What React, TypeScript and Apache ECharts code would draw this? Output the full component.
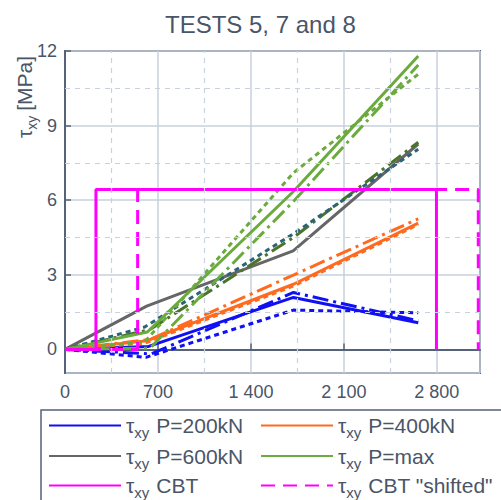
import React, { useEffect, useRef } from "react";
import * as echarts from "echarts";

// ---- data ----
const titleText = "TESTS 5, 7 and 8";
const xTickStep = 700;
const xMin = 0;
const xMax = 3125;
const yMin = -0.95;
const yMax = 12;
const minorX = [350, 1050, 1750, 2450];
const minorY = [1.5, 4.5, 7.5, 10.5];

// P=200kN
const b5X = [0, 630, 1720, 2660];
const b5Y = [0, 0.12, 2.09, 1.07];
const b7X = [0, 650, 1720, 2660];
const b7Y = [0, -0.18, 2.29, 1.15];
const b8X = [0, 610, 1720, 2660];
const b8Y = [0, -0.32, 1.58, 1.47];
// P=400kN
const o5X = [0, 620, 1720, 2660];
const o5Y = [0, 0.35, 2.62, 5.08];
const o7X = [0, 640, 1720, 2660];
const o7Y = [0, 0.4, 2.99, 5.25];
const o8X = [0, 600, 1720, 2660];
const o8Y = [0, 0.25, 2.55, 5.02];
// P=600kN
const g5X = [0, 615, 1718, 2660];
const g5Y = [0, 1.74, 3.96, 8.26];
const g7X = [0, 640, 1720, 2660];
const g7Y = [0, 0.8, 4.5, 8.33];
const g8X = [0, 600, 1720, 2660];
const g8Y = [0, 0.9, 4.65, 8.05];
// P=max
const m5X = [0, 620, 1720, 2660];
const m5Y = [0, 0.7, 6.35, 11.8];
const m7X = [0, 640, 1720, 2660];
const m7Y = [0, 0.05, 5.95, 11.44];
const m8X = [0, 600, 1720, 2660];
const m8Y = [0, 0.3, 7.1, 11.07];
// CBT
const cbtX = [0, 233, 233, 2797, 2797];
const cbtY = [0, 0, 6.43, 6.43, 0];
const cbtShiftX = [0, 547, 547, 3112, 3112];
const cbtShiftY = [0, 0, 6.43, 6.43, 0];

// legend entries: [left column, right column] per row
const legendRows = [
  ["P=200kN", "P=400kN"],
  ["P=600kN", "P=max"],
  ["CBT", 'CBT "shifted"'],
];

const pairs = (xs: number[], ys: number[]) => xs.map((x, i) => [x, ys[i]]);

const TXT = "#4a5568";
const FONT = "'Liberation Sans', Arial, sans-serif";
const GRID = "#c9d1dd";

const DOT = [5, 4];
const DASHDOT = [16, 5, 3, 5];

const mk = (name: string, xs: number[], ys: number[], color: string, type: any, width = 3) => ({
  type: "line",
  name,
  data: pairs(xs, ys),
  symbol: "none",
  z: 3,
  lineStyle: { color, width, type, cap: "butt" },
  itemStyle: { color },
});

export default function App() {
  const ref = useRef<HTMLDivElement>(null);
  useEffect(() => {
    if (!ref.current) return;
    const chart = echarts.init(ref.current, null, { renderer: "svg" });
    const rich = {
      t: { fontSize: 21, fontFamily: FONT, color: TXT },
      s: { fontSize: 15, fontFamily: FONT, color: TXT, verticalAlign: "bottom", lineHeight: 29 },
      n: { fontSize: 21, fontFamily: FONT, color: TXT, padding: [0, 0, 0, 7] },
    };
    const fmtX = (v: number) => String(v).replace(/\B(?=(\d{3})+(?!\d))/g, " ");
    const blue = "#1010f4";
    const orange = "#ff6a1e";
    const gray = "#666666";
    const dgreen = "#4b7428";
    const teal = "#2b6478";
    const green = "#6bab3e";
    const magenta = "#ff00ff";
    const legendCommon = {
      orient: "horizontal",
      itemWidth: 72,
      itemHeight: 14,
      itemGap: 0,
      padding: 0,
      formatter: (name: string) => `{t|τ}{s|xy}{n|${name}}`,
      textStyle: { color: TXT, fontSize: 21, fontFamily: FONT, rich, height: 29, lineHeight: 29 },
      itemStyle: { opacity: 0, color: "transparent", borderWidth: 0 },
      selectedMode: false,
    };
    const rowTops = [411, 441.5, 471];
    const colLefts = [48, 260];
    const legends: any[] = [];
    legendRows.forEach((row, r) =>
      row.forEach((name, c) => legends.push({ ...legendCommon, left: colLefts[c], top: rowTops[r], data: [name] }))
    );
    chart.setOption({
      animation: false,
      backgroundColor: "#ffffff",
      textStyle: { fontFamily: FONT },
      title: {
        text: titleText,
        left: 160,
        top: 7,
        textStyle: { color: TXT, fontSize: 24, fontWeight: "normal", fontFamily: FONT },
      },
      grid: { left: 65, top: 51, right: 21, bottom: 127, show: true, borderColor: "#56627a", borderWidth: 2, backgroundColor: "transparent" },
      xAxis: {
        type: "value",
        min: xMin,
        max: xMax,
        interval: xTickStep,
        axisLine: { show: true, lineStyle: { color: "#56627a", width: 2 } },
        axisTick: { show: true, inside: true, length: 6, lineStyle: { color: "#56627a", width: 1.5 } },
        axisLabel: { color: TXT, fontSize: 18, fontFamily: FONT, margin: 10, showMaxLabel: false, formatter: fmtX },
        splitLine: { show: true, lineStyle: { color: GRID, width: 1.5 } },
      },
      yAxis: {
        type: "value",
        min: yMin,
        max: yMax,
        splitNumber: 5,
        axisLine: { show: true, lineStyle: { color: "#56627a", width: 2 } },
        axisTick: { show: true, inside: true, length: 6, lineStyle: { color: "#56627a", width: 1.5 } },
        axisLabel: { color: TXT, fontSize: 18, fontFamily: FONT, margin: 8, showMinLabel: false },
        splitLine: { show: true, lineStyle: { color: GRID, width: 1.5 } },
      },
      legend: legends,
      graphic: [
        {
          type: "rect",
          shape: { x: 41, y: 410, width: 480, height: 110 },
          style: { fill: "none", stroke: "#56627a", lineWidth: 1.5 },
          z: 10,
        },
        {
          type: "text",
          x: 24,
          y: 138,
          rotation: Math.PI / 2,
          style: {
            text: "{t|τ}{s|xy}{n|[MPa]}",
            align: "left",
            verticalAlign: "middle",
            fill: TXT,
            rich: {
              t: { fontSize: 21, fontFamily: FONT, fill: TXT },
              s: { fontSize: 14, fontFamily: FONT, fill: TXT, verticalAlign: "bottom", lineHeight: 30 },
              n: { fontSize: 21, fontFamily: FONT, fill: TXT, padding: [0, 0, 0, 5] },
            },
          },
        },
      ],
      series: [
        {
          type: "line",
          data: [],
          symbol: "none",
          z: 1,
          markLine: {
            silent: true,
            symbol: "none",
            label: { show: false },
            lineStyle: { color: GRID, width: 1.2, type: [5, 5] },
            data: [
              ...minorX.map((x) => ({ xAxis: x })),
              ...minorY.map((y) => ({ yAxis: y })),
            ],
          },
        },
        mk("P=200kN", b5X, b5Y, blue, "solid"),
        mk("b7", b7X, b7Y, blue, DASHDOT),
        mk("b8", b8X, b8Y, blue, DOT),
        mk("P=400kN", o5X, o5Y, orange, "solid"),
        mk("o7", o7X, o7Y, orange, DASHDOT),
        mk("o8", o8X, o8Y, orange, DOT),
        mk("P=600kN", g5X, g5Y, gray, "solid"),
        mk("g7", g7X, g7Y, dgreen, DASHDOT),
        mk("g8", g8X, g8Y, teal, DOT),
        mk("P=max", m5X, m5Y, green, "solid"),
        mk("m7", m7X, m7Y, green, DASHDOT),
        mk("m8", m8X, m8Y, green, DOT),
        mk("CBT", cbtX, cbtY, magenta, "solid"),
        mk('CBT "shifted"', cbtShiftX, cbtShiftY, magenta, [14, 8]),
      ],
    });
    return () => chart.dispose();
  }, []);
  return <div ref={ref} style={{ position: "fixed", left: 0, top: 0, width: 501, height: 500 }} />;
}
